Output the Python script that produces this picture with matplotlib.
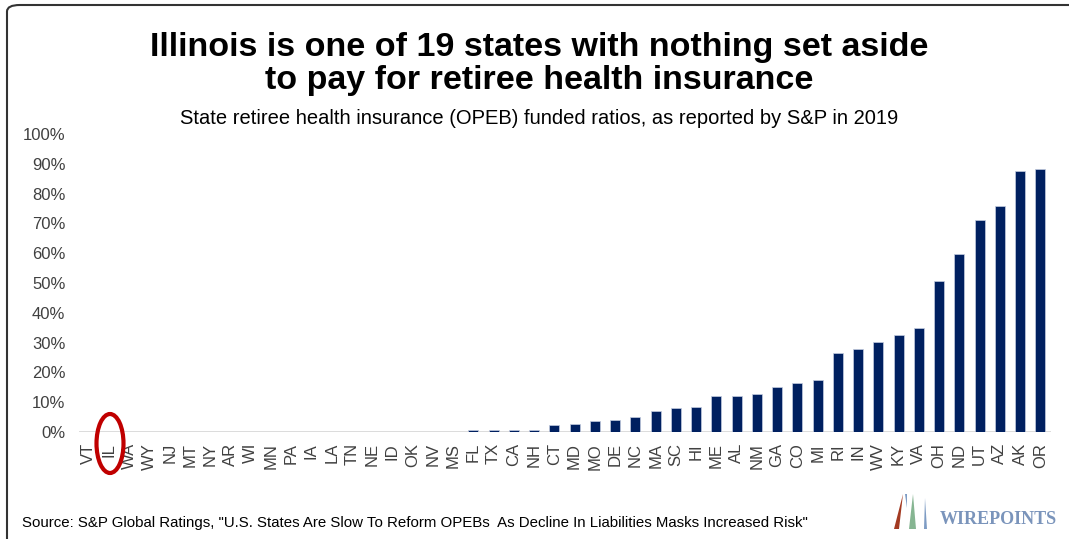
import matplotlib
matplotlib.use("Agg")
import matplotlib.pyplot as plt
from matplotlib.patches import Ellipse, FancyBboxPatch, Polygon

states = [
    "VT", "IL", "WA", "WY", "NJ", "MT", "NY", "AR", "WI", "MN",
    "PA", "IA", "LA", "TN", "NE", "ID", "OK", "NV", "MS", "FL",
    "TX", "CA", "NH", "CT", "MD", "MO", "DE", "NC", "MA", "SC",
    "HI", "ME", "AL", "NM", "GA", "CO", "MI", "RI", "IN", "WV",
    "KY", "VA", "OH", "ND", "UT", "AZ", "AK", "OR",
]
funded = [
    0, 0, 0, 0, 0, 0, 0, 0, 0, 0,
    0, 0, 0, 0, 0, 0, 0, 0, 0, 0.8,
    0.8, 0.8, 0.8, 2.2, 2.8, 3.7, 4.1, 5.1, 6.9, 7.9,
    8.4, 12.2, 12.2, 12.6, 15.0, 16.3, 17.3, 26.5, 27.9, 30.2,
    32.6, 34.9, 50.8, 59.7, 71.3, 76.0, 87.6, 88.1,
]
yticks = list(range(0, 101, 10))
ytick_labels = [f"{t}%" for t in yticks]

title = "Illinois is one of 19 states with nothing set aside\nto pay for retiree health insurance"
subtitle = "State retiree health insurance (OPEB) funded ratios, as reported by S&P in 2019"
source = ('Source: S&P Global Ratings, "U.S. States Are Slow To Reform OPEBs  '
          'As Decline In Liabilities Masks Increased Risk"')

plt.rcParams["font.family"] = ["Liberation Sans", "DejaVu Sans"]

W, H = 1069, 539
fig = plt.figure(figsize=(W / 100, H / 100), dpi=100)
ax = fig.add_axes([78.5 / W, (H - 432) / H, 972 / W, 298 / H])

x = list(range(len(states)))
ax.bar(x, funded, width=0.5, color="#002060", edgecolor="#c5cde0", linewidth=0.5, zorder=3)
ax.axhline(0, color="#D9D9D9", linewidth=1.3, zorder=2)

ax.set_xlim(-0.5, len(states) - 0.5)
ax.set_ylim(0, 100)
ax.set_yticks(yticks)
ax.set_yticklabels(ytick_labels)
ax.set_xticks(x)
ax.set_xticklabels(states, rotation=90, va="top", ha="center")
ax.tick_params(axis="both", length=0, labelsize=12, colors="#404040")
ax.tick_params(axis="y", pad=9.5)
ax.tick_params(axis="x", pad=8)
for s in ax.spines.values():
    s.set_visible(False)

# red ring around Illinois
ring = Ellipse((110 / W, (H - 443.5) / H), 27 / W, 59 / H, transform=fig.transFigure,
               fill=False, edgecolor="#C00000", linewidth=3, clip_on=False)
fig.patches.append(ring)

# titles
fig.text(0.5045, (H - 64) / H, title, ha="center", va="center", fontsize=24.5,
         fontweight="bold", linespacing=1.12, color="black")
fig.text(0.5045, (H - 118) / H, subtitle, ha="center", va="center", fontsize=14.5,
         color="black")
fig.text(22 / W, (H - 523) / H, source, ha="left", va="center", fontsize=10.8,
         color="black")

# frame (right and bottom sides fall outside the image, as in the original)
frame = FancyBboxPatch((7 / W, -20 / H), 1085 / W, 554 / H,
                       boxstyle="round,pad=0,rounding_size=0.012",
                       transform=fig.transFigure, fill=False,
                       edgecolor="#333333", linewidth=1.5, clip_on=False)
fig.patches.append(frame)

# Wirepoints logo
def fp(px, py):
    return (px / W, (H - py) / H)

logo_marks = [
    ([fp(894, 529), fp(899, 529), fp(903, 494)], "#A33A22"),
    ([fp(909, 529), fp(916, 529), fp(913, 494)], "#86B592"),
    ([fp(905, 494), fp(907, 494), fp(907, 508)], "#7E9CC4"),
    ([fp(924, 529), fp(927, 529), fp(925, 498)], "#7E9CC4"),
]
for pts, col in logo_marks:
    fig.patches.append(Polygon(pts, closed=True, transform=fig.transFigure,
                               facecolor=col, edgecolor="none"))
fig.text(998 / W, (H - 519) / H, "WIREPOINTS", ha="center", va="center",
         fontsize=13, fontweight="bold", family=["Liberation Serif", "DejaVu Serif"],
         color="#7A94BB")

fig.savefig("out.png", dpi=100, facecolor="white")
